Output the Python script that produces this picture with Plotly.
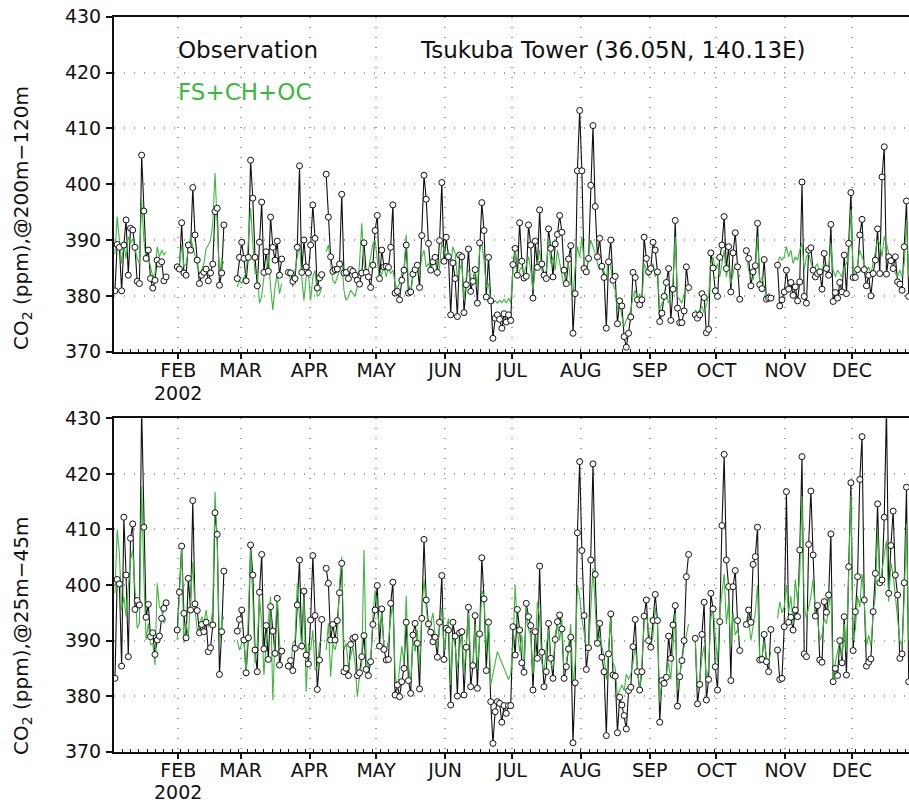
import pandas as pd
import plotly.graph_objects as go

# ---------------- data (daily means, day index 0 = 1 Jan 2002) ----------------
seg_start = [2, 30, 57, 80, 97, 263, 286, 300]
seg_len = [24, 22, 21, 16, 164, 21, 12, 60]

top_obs = [
    380.9, 389.2, 388.7, 380.9, 389.1, 393.6, 383.7, 392.1, 391.8, 388.7, 382.6, 382.2, 405.2, 395.2, 386.7, 388.2, 383.1, 381.4, 382.8, 386.4, 385.7, 386.1, 382.7, 383.4,
    385.2, 384.8, 393.1, 384.1, 383.7, 389.1, 388.2, 399.4, 390.9, 386.4, 382.2, 383.7, 384.2, 384.8, 382.7, 384.1, 385.7, 395.1, 395.7, 381.9, 384.1, 392.7,
    383.1, 386.9, 389.6, 386.7, 382.7, 386.9, 404.3, 397.5, 386.9, 381.8, 389.6, 396.8, 384.2, 387.9, 384.4, 394.1, 388.7, 386.4, 389.8, 383.7, 386.6,
    384.2, 384.1, 382.6, 383.1, 388.7, 403.3, 384.2, 390.0, 385.2, 384.1, 389.1, 396.3, 390.3, 381.4, 383.2, 383.8,
    401.8, 394.1, 387.0, 384.4, 384.7, 384.8, 385.7, 398.2, 384.1, 384.2, 383.1, 384.7, 384.4, 383.7, 382.8, 382.1, 384.1, 389.5, 384.2, 383.4, 381.5, 385.5, 391.7, 394.4,
    383.1, 388.2, 385.2, 385.3, 385.1, 388.7, 396.3, 380.5, 380.8, 379.3,
    382.8, 384.6, 389.1, 380.5, 380.7, 383.9, 384.7, 385.5, 381.5, 390.8,
    401.6, 397.3, 389.4, 384.6, 386.1, 386.9, 384.2, 389.9, 400.3, 386.2,
    390.5, 387.0, 376.6, 385.9, 383.1, 376.3, 387.3, 387.0, 377.0, 382.0,
    388.4, 380.8, 382.6, 384.7, 378.7, 389.5, 396.7, 391.7, 379.8, 386.9,
    379.1, 372.4, 376.0, 376.6, 375.8, 374.2, 376.8, 375.3, 376.6, 375.6,
    385.6, 388.5, 383.7, 393.1, 386.2, 383.2, 383.5, 392.7, 389.1, 379.6,
    389.8, 385.1, 395.4, 385.7, 383.7, 383.1, 392.0, 388.5, 383.4, 389.3,
    391.0, 394.4, 391.4, 384.6, 382.2, 386.6, 389.0, 373.3, 380.4, 402.4,
    413.2, 402.4, 384.9, 384.3, 386.7, 399.8, 410.5, 396.0, 387.0, 390.3,
    385.3, 383.3, 374.2, 386.1, 390.0, 382.8, 383.5, 375.0, 379.1, 378.2,
    372.7, 370.8, 373.3, 376.2, 384.2, 383.3, 379.3, 378.4, 379.3, 390.5,
    386.7, 384.3,
    384.9, 389.6, 388.2, 384.3, 375.4, 376.9, 379.9, 382.4, 384.9, 375.6, 381.2, 393.5, 377.8, 375.2, 375.2, 377.3, 385.2, 381.5,
    376.6, 376.0, 376.6, 380.4, 379.7, 373.4, 374.0, 387.7, 385.0, 380.9, 379.9, 386.9, 389.1, 394.2, 384.9, 388.8, 380.7, 387.7, 391.3, 385.2, 379.4,
    388.1, 386.7, 381.8, 384.3, 385.4, 393.0, 382.0, 381.3, 386.5, 379.4, 379.6, 379.6,
    385.5, 378.2, 379.3, 380.7, 384.6, 381.2, 382.4, 380.1, 381.6, 379.1,
    382.5, 400.4, 379.9, 378.7, 388.2, 388.6, 384.6, 383.4, 384.0, 384.3,
    381.2, 387.6, 384.9, 383.7, 392.8, 379.0, 380.6, 379.6, 382.4, 380.7,
    387.3, 380.4, 389.4, 398.5, 383.3, 383.3, 384.7, 390.9, 393.7, 384.7,
    381.8, 383.7, 380.0, 384.0, 386.4, 392.0, 384.0, 401.3, 406.7, 383.9,
    387.0, 386.3, 384.9, 387.0, 382.5, 382.1, 381.0, 388.8, 397.0, 379.9,
]

top_mod = [
    387.4, 394.2, 390.0, 385.8, 389.4, 386.7, 390.6, 389.4, 390.3, 388.2, 386.7, 385.8, 397.2, 390.0, 386.4, 387.0, 385.2, 383.4, 384.0, 388.8, 387.0, 388.2, 387.3, 387.9,
    384.3, 385.8, 389.1, 385.2, 385.8, 388.2, 390.6, 388.8, 387.0, 385.2, 384.0, 384.6, 385.8, 388.5, 389.1, 390.0, 393.0, 402.0, 393.0, 383.4, 386.7, 385.8,
    381.6, 382.8, 382.2, 383.4, 384.0, 389.4, 395.7, 389.4, 384.0, 384.0, 378.7, 379.9, 383.4, 384.6, 387.0, 381.6, 377.5, 381.6, 384.0, 380.4, 382.2,
    384.0, 382.8, 381.6, 384.6, 387.0, 389.4, 383.4, 379.2, 383.4, 384.0, 379.2, 383.4, 384.6, 379.9, 380.2, 381.6,
    387.9, 389.1, 385.8, 382.8, 382.2, 383.4, 384.6, 386.4, 381.0, 379.2, 379.9, 381.0, 380.4, 379.9, 381.6, 385.8, 393.0, 385.8, 383.4, 384.6, 387.0, 389.4, 390.0, 385.8,
    382.8, 384.0, 385.2, 383.4, 385.2, 384.0, 384.6, 382.2, 381.3, 382.2,
    384.0, 384.6, 391.0, 382.2, 380.4, 383.4, 384.6, 385.8, 384.0, 387.0,
    388.2, 385.2, 385.8, 384.6, 386.4, 387.0, 383.4, 385.2, 389.4, 388.2,
    386.4, 388.2, 385.8, 388.8, 387.6, 383.4, 384.6, 385.8, 379.2, 383.4,
    384.6, 383.4, 382.2, 384.6, 381.6, 388.2, 389.4, 386.4, 381.6, 382.2,
    379.2, 378.7, 379.1, 378.7, 379.2, 378.8, 379.4, 378.7, 379.6, 378.8,
    384.6, 388.2, 383.4, 384.6, 385.2, 384.0, 385.8, 387.0, 384.6, 381.0,
    384.6, 385.8, 388.2, 384.6, 383.4, 384.6, 390.6, 385.8, 387.0, 384.6,
    388.2, 385.8, 383.4, 381.6, 384.6, 385.8, 382.2, 379.9, 385.2, 388.8,
    387.0, 390.6, 385.8, 384.6, 387.0, 390.0, 388.8, 387.6, 385.8, 384.6,
    385.8, 384.0, 382.8, 387.0, 385.2, 382.2, 381.0, 377.5, 378.7, 376.3,
    374.5, 375.7, 376.3, 377.5, 379.9, 381.0, 379.2, 380.4, 378.7, 385.8,
    384.6, 383.4,
    384.6, 385.8, 383.4, 384.6, 377.5, 378.7, 379.2, 380.4, 378.7, 379.9, 382.8, 390.6, 379.9, 379.2, 378.7, 380.4, 381.6, 380.4,
    377.5, 376.9, 377.5, 378.1, 376.9, 378.7, 379.9, 385.8, 387.0, 384.6, 385.8, 383.4, 385.8, 388.2, 383.4, 385.8, 382.2, 384.0, 385.8, 384.6, 383.4,
    387.0, 384.6, 383.4, 382.8, 384.6, 390.6, 382.2, 383.4, 381.6, 379.9, 380.4, 379.9,
    385.8, 387.0, 386.4, 387.0, 388.8, 387.0, 388.2, 385.8, 387.0, 386.4,
    388.2, 389.4, 384.6, 387.0, 387.6, 385.8, 384.6, 385.2, 385.8, 383.4,
    384.6, 385.8, 384.0, 384.6, 389.4, 384.6, 383.4, 384.6, 384.0, 383.4,
    385.2, 385.8, 387.0, 395.4, 384.6, 383.4, 385.8, 388.2, 387.0, 385.8,
    384.6, 385.2, 384.0, 385.8, 388.2, 390.0, 389.4, 387.0, 390.6, 389.4,
    387.6, 385.8, 385.2, 384.0, 383.4, 384.6, 383.4, 385.8, 393.6, 383.4,
]

bot_obs = [
    383.2, 401.0, 400.2, 385.4, 412.2, 401.8, 387.1, 408.4, 411.0, 395.6, 397.2, 396.4, 432.0, 410.4, 394.2, 396.5, 390.7, 391.4, 387.5, 390.1, 390.8, 394.0, 395.8, 396.8,
    391.9, 398.7, 407.0, 394.9, 390.5, 401.2, 395.5, 415.2, 396.6, 395.4, 391.4, 392.9, 391.6, 393.3, 388.0, 388.7, 392.8, 413.0, 409.1, 383.9, 391.6, 402.5,
    391.7, 393.8, 395.5, 390.1, 384.2, 390.5, 407.2, 401.8, 388.3, 384.4, 398.7, 405.5, 388.5, 392.7, 386.6, 396.1, 391.7, 387.7, 397.6, 385.6, 388.1,
    385.4, 386.4, 384.6, 388.6, 396.4, 404.5, 389.0, 398.9, 387.4, 385.8, 393.7, 405.3, 394.5, 381.2, 386.5, 393.8,
    403.0, 400.3, 390.1, 392.9, 390.1, 393.6, 398.6, 403.9, 384.4, 385.0, 383.7, 389.3, 390.4, 390.6, 383.7, 384.2, 387.1, 390.9, 384.8, 383.7, 386.2, 392.9, 395.5, 399.9,
    389.0, 395.7, 388.4, 386.5, 386.6, 396.7, 400.5, 380.2, 382.0, 379.9,
    382.6, 385.0, 393.3, 382.8, 380.5, 391.0, 393.1, 389.5, 381.3, 394.0,
    408.2, 397.3, 393.0, 391.5, 389.8, 390.6, 387.0, 393.3, 401.7, 386.6,
    392.2, 391.9, 378.4, 393.3, 390.8, 380.0, 391.4, 391.6, 380.2, 388.8,
    396.0, 381.7, 385.5, 394.5, 381.4, 391.2, 404.9, 397.5, 384.6, 393.3,
    379.0, 371.5, 377.2, 379.0, 378.7, 375.3, 378.3, 376.9, 378.3, 378.3,
    392.5, 387.4, 395.6, 391.9, 386.0, 384.3, 396.7, 394.3, 392.7, 381.1,
    391.6, 386.8, 403.4, 387.9, 381.7, 384.4, 393.1, 386.8, 383.2, 390.2,
    393.4, 394.6, 392.1, 383.2, 385.3, 388.5, 390.6, 371.6, 382.4, 409.4,
    422.2, 406.2, 394.5, 384.8, 388.7, 404.5, 421.8, 401.9, 389.5, 393.1,
    387.0, 384.4, 372.9, 387.6, 394.8, 383.8, 383.6, 373.4, 379.8, 378.4,
    376.5, 374.1, 381.0, 381.6, 388.9, 393.8, 384.4, 381.1, 384.4, 394.4,
    397.3, 390.0,
    388.8, 393.6, 398.3, 393.6, 375.3, 382.8, 382.3, 383.4, 390.8, 386.8, 392.8, 396.3, 378.2, 383.5, 386.4, 390.0, 401.5, 405.5,
    390.4, 378.6, 382.1, 391.1, 396.9, 379.3, 383.0, 398.5, 395.7, 385.3, 381.1, 393.4, 410.7, 423.5, 404.5, 399.7, 382.8, 399.7, 402.6, 393.6, 388.2,
    392.9, 395.5, 393.3, 403.7, 405.1, 410.4, 386.5, 386.6, 391.1, 386.2, 384.4, 392.0,
    388.3, 383.0, 383.2, 392.5, 416.8, 393.3, 394.2, 391.9, 395.5, 394.3,
    406.3, 423.1, 387.6, 387.1, 407.3, 416.9, 405.4, 394.4, 396.3, 386.5,
    386.1, 397.0, 395.1, 398.2, 409.2, 382.6, 385.0, 383.7, 390.0, 386.0,
    394.3, 383.8, 403.3, 418.4, 388.2, 395.2, 401.5, 419.0, 426.7, 397.3,
    385.4, 386.1, 386.7, 395.2, 402.1, 414.6, 400.4, 400.9, 412.2, 432.0,
    398.5, 407.1, 413.3, 401.8, 398.2, 386.8, 387.6, 400.4, 417.6, 382.6,
]

bot_mod = [
    398.5, 410.0, 405.7, 395.5, 397.9, 394.3, 399.7, 404.5, 406.3, 398.5, 392.2, 393.1, 417.8, 401.5, 390.1, 393.1, 389.2, 389.5, 385.6, 400.3, 396.1, 395.5, 393.1, 394.0,
    390.1, 397.3, 406.9, 389.5, 393.1, 390.7, 398.5, 404.2, 395.5, 391.9, 392.5, 394.3, 393.1, 395.5, 392.5, 393.1, 395.5, 416.8, 407.5, 389.5, 393.1, 394.3,
    390.1, 388.3, 389.5, 390.7, 383.5, 394.3, 406.3, 397.9, 385.9, 389.5, 397.9, 393.1, 383.8, 389.5, 394.3, 397.9, 379.3, 390.7, 398.2, 389.5, 387.1,
    385.9, 384.4, 389.5, 390.1, 400.3, 394.9, 388.3, 397.9, 380.8, 389.5, 388.3, 391.9, 384.7, 385.3, 389.5, 390.1,
    388.3, 393.1, 383.5, 389.5, 388.3, 390.1, 400.3, 405.1, 388.3, 389.5, 385.3, 387.1, 388.9, 385.9, 379.9, 383.5, 385.9, 406.3, 386.5, 385.3, 385.9, 394.3, 399.1, 395.5,
    392, 395, 389, 388, 390, 394, 397, 384, 381, 385,
    389, 386, 398, 386, 382, 390, 388, 392, 385, 395,
    401, 396, 392, 393, 395, 391, 389, 392, 396, 388,
    392, 394, 382, 391, 389, 385, 388, 392, 384, 389,
    395, 386, 385, 393, 385, 390, 399, 398, 388, 394,
    382, 384, 386, 388, 387, 386, 385, 384, 383, 384,
    389, 400, 392, 388, 391, 385, 396, 392, 391, 384,
    388, 397, 394, 386, 384, 389, 392, 386, 385, 391,
    393, 390, 394, 384, 386, 389, 393, 382, 386, 400,
    398, 394, 391, 389, 388, 396, 403, 396, 389, 391,
    389, 387, 383, 388, 394, 386, 385, 380, 381, 382,
    381, 384, 383, 384, 386, 389, 385, 381, 386, 393,
    395, 392,
    389, 391, 396, 393, 379, 383, 383, 384, 386, 383, 389, 395, 381, 384, 386, 389, 391, 393,
    390, 381, 383, 387, 389, 383, 385, 394, 396, 390, 386, 395, 398, 402, 393, 397, 389, 395, 391, 392, 390,
    396, 394, 390, 393, 395, 400, 386, 387, 390, 387, 386, 388,
    394, 397, 395, 396, 400, 395, 398, 393, 401, 397,
    402, 416, 396, 394, 396, 398, 401, 395, 394, 390,
    391, 394, 393, 396, 399, 382, 386, 388, 390, 387,
    393, 388, 400, 416, 390, 392, 398, 396, 402, 397,
    389, 391, 389, 395, 398, 410, 400, 403, 406, 408,
    397, 404, 402, 398, 395, 390, 389, 398, 411, 390,
]

month_ticks = ["2002-02-01", "2002-03-01", "2002-04-01", "2002-05-01", "2002-06-01", "2002-07-01",
               "2002-08-01", "2002-09-01", "2002-10-01", "2002-11-01", "2002-12-01"]
month_labels = ["FEB", "MAR", "APR", "MAY", "JUN", "JUL", "AUG", "SEP", "OCT", "NOV", "DEC"]
year_label = "2002"
y_ticks = [370, 380, 390, 400, 410, 420, 430]

# ---------------- build series with gaps ----------------
base = pd.Timestamp("2002-01-01")


def with_gaps(values):
    xs, ys = [], []
    i = 0
    for s, n in zip(seg_start, seg_len):
        for k in range(n):
            xs.append(base + pd.Timedelta(days=s + k + 0.5))
            ys.append(values[i])
            i += 1
        xs.append(base + pd.Timedelta(days=s + n + 0.5))
        ys.append(None)
    return xs, ys


BLACK = "#111111"
GREEN = "#3cb93c"
GRID = "#a0a0a0"
FONT = "DejaVu Sans"

W, H = 909, 804
L = 114


def py(p):
    return 1 - p / H


def px(p):
    return (p - L) / (W - L)


fig = go.Figure()

panels = [(top_obs, top_mod, "x", "y"), (bot_obs, bot_mod, "x2", "y2")]
for obs, mod, xa, ya in panels:
    xo, yo = with_gaps(obs)
    xm, ym = with_gaps(mod)
    fig.add_trace(go.Scatter(x=xo, y=yo, mode="lines", line=dict(color=BLACK, width=1.1),
                             xaxis=xa, yaxis=ya, showlegend=False, hoverinfo="skip"))
    fig.add_trace(go.Scatter(x=xm, y=ym, mode="lines", line=dict(color=GREEN, width=1.1),
                             xaxis=xa, yaxis=ya, showlegend=False))
    fig.add_trace(go.Scatter(x=xo, y=yo, mode="markers",
                             marker=dict(symbol="circle", size=6, color="white",
                                         line=dict(color=BLACK, width=1)),
                             xaxis=xa, yaxis=ya, showlegend=False))

x_start = base + pd.Timedelta(days=2.07)
x_end = base + pd.Timedelta(days=359.63)

xaxis_style = dict(
    type="date", range=[x_start, x_end], automargin=False,
    tickvals=month_ticks, ticktext=month_labels,
    ticks="outside", ticklen=6, tickwidth=1.5, tickcolor=BLACK,
    showline=True, linecolor=BLACK, linewidth=1.5, mirror=True,
    showgrid=True, gridcolor=GRID, griddash="1px,9px", gridwidth=1.5,
    zeroline=False,
    tickfont=dict(family=FONT, size=19, color=BLACK),
    ticklabelstandoff=-5,
    minor=dict(ticks="inside", ticklen=3, tickcolor=BLACK, tickwidth=1,
               dtick=3.75 * 86400000, tick0="2002-01-03", showgrid=False),
)
yaxis_style = dict(
    range=[370, 430], tickvals=y_ticks, automargin=False,
    ticks="outside", ticklen=6, tickwidth=1.5, tickcolor=BLACK,
    showline=True, linecolor=BLACK, linewidth=2,
    showgrid=True, gridcolor=GRID, griddash="1px,9px", gridwidth=1.5,
    zeroline=False,
    tickfont=dict(family=FONT, size=19, color=BLACK),
    ticklabelstandoff=1,
)

fig.update_layout(
    width=W, height=H,
    margin=dict(l=L, r=0, t=0, b=0, autoexpand=False),
    paper_bgcolor="white", plot_bgcolor="white",
    xaxis=dict(domain=[0, 1], anchor="y", **xaxis_style),
    yaxis=dict(domain=[py(351.7), py(16.7)], anchor="x", **yaxis_style),
    xaxis2=dict(domain=[0, 1], anchor="y2", **xaxis_style),
    yaxis2=dict(domain=[py(751.7), py(418.3)], anchor="x2", **yaxis_style),
    showlegend=False,
)

annots = [
    dict(text="Observation", x=px(176), y=py(50), xanchor="left", yanchor="middle",
         font=dict(family=FONT, size=23, color=BLACK)),
    dict(text="FS+CH+OC", x=px(176), y=py(92), xanchor="left", yanchor="middle",
         font=dict(family=FONT, size=23, color=GREEN)),
    dict(text="Tsukuba Tower (36.05N, 140.13E)", x=px(418), y=py(50), xanchor="left", yanchor="middle",
         font=dict(family=FONT, size=23, color=BLACK)),
    dict(text="CO<sub>2</sub> (ppm),@200m\u2212120m", x=px(22), y=py(352), xanchor="center", yanchor="bottom",
         textangle=-90, font=dict(family=FONT, size=20, color=BLACK)),
    dict(text="CO<sub>2</sub> (ppm),@25m\u221245m", x=px(22), y=py(757), xanchor="center", yanchor="bottom",
         textangle=-90, font=dict(family=FONT, size=20, color=BLACK)),
    dict(text=year_label, x=px(178.3), y=py(393), xanchor="center", yanchor="middle",
         font=dict(family=FONT, size=19, color=BLACK)),
    dict(text=year_label, x=px(178.3), y=py(792), xanchor="center", yanchor="middle",
         font=dict(family=FONT, size=19, color=BLACK)),
]
for a in annots:
    a.update(xref="paper", yref="paper", showarrow=False)
fig.update_layout(annotations=annots)

fig.write_html("out.html")
